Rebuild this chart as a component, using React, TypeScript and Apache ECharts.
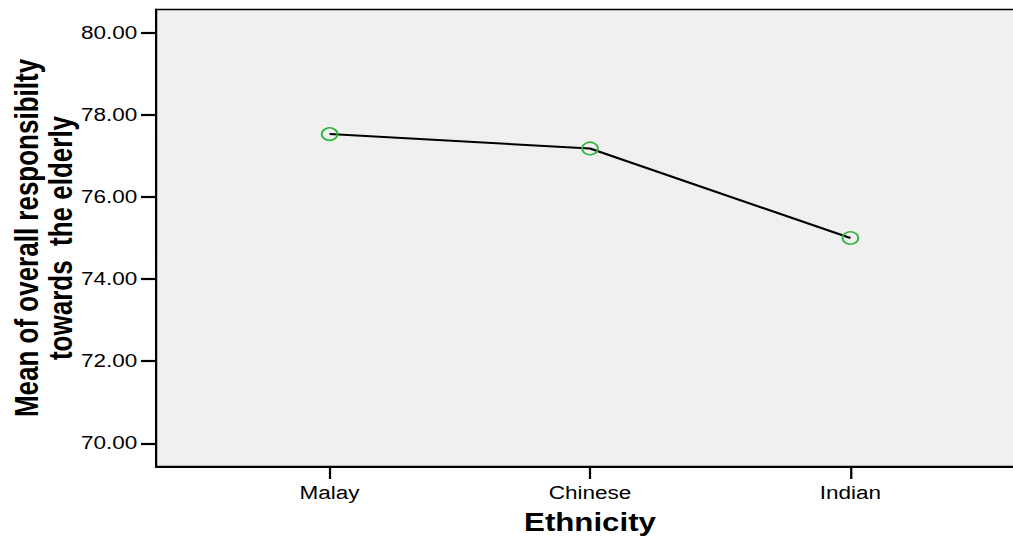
import React, { useEffect, useRef } from "react";
import * as echarts from "echarts";

const categories = ["Malay", "Chinese", "Indian"];
const means = [77.53, 77.18, 75.0];
const yTicks = [70, 72, 74, 76, 78, 80];
const xTitle = "Ethnicity";
const yTitle = "Mean of overall responsibilty\ntowards  the elderly";

const STRETCH = 1.25;
const INNER_W = 840;
const H = 538;

export default function App() {
  const ref = useRef<HTMLDivElement>(null);
  useEffect(() => {
    if (!ref.current) return;
    const chart = echarts.init(ref.current, undefined, { renderer: "svg" });
    const font = "'Liberation Sans', Arial, sans-serif";
    chart.setOption({
      animation: false,
      backgroundColor: "#ffffff",
      grid: {
        left: 124.8,
        right: 20.8,
        top: 9.5,
        bottom: 71.5,
        show: true,
        backgroundColor: "#f0f0f0",
        borderColor: "#000",
        borderWidth: 1.6,
        containLabel: false,
        outerBoundsMode: "none",
      },
      xAxis: {
        type: "value",
        min: -2 / 3,
        max: 8 / 3,
        splitLine: { show: false },
        axisLine: { show: true, onZero: false, lineStyle: { color: "#000", width: 2 } },
        axisTick: {
          show: true,
          inside: false,
          customValues: [0, 1, 2],
          length: 12.5,
          lineStyle: { color: "#000", width: 1.8 },
        },
        axisLabel: {
          customValues: [0, 1, 2],
          formatter: (v: number) => categories[Math.round(v)] ?? "",
          fontSize: 18,
          fontFamily: font,
          color: "#000",
          margin: 17,
        },
        name: xTitle,
        nameLocation: "middle",
        nameGap: 43,
        nameMoveOverlap: false,
        nameTextStyle: { fontSize: 25, fontWeight: "bold", fontFamily: font, color: "#000" },
      },
      yAxis: {
        type: "value",
        min: 69.435,
        max: 80.565,
        splitLine: { show: false },
        axisLine: { show: true, onZero: false, lineStyle: { color: "#000", width: 1.6 } },
        axisTick: {
          show: true,
          inside: false,
          customValues: yTicks,
          length: 12,
          lineStyle: { color: "#000", width: 2.2 },
        },
        axisLabel: {
          customValues: yTicks,
          formatter: (v: number) => v.toFixed(2),
          fontSize: 18,
          fontFamily: font,
          color: "#000",
          margin: 15,
        },
        name: yTitle,
        nameLocation: "middle",
        nameGap: 63,
        nameRotate: 90,
        nameMoveOverlap: false,
        nameTextStyle: {
          fontSize: 26,
          fontWeight: "bold",
          fontFamily: font,
          color: "#000",
          lineHeight: 27,
          align: "center",
        },
      },
      series: [
        {
          type: "line",
          data: means.map((v, i) => [i, v]),
          symbol: "circle",
          symbolSize: 12.5,
          lineStyle: { color: "#000", width: 2 },
          itemStyle: { color: "rgba(0,0,0,0)", borderColor: "#2fb53a", borderWidth: 1.6 },
          emphasis: { disabled: true },
        },
      ],
    });
    return () => chart.dispose();
  }, []);
  return (
    <div
      style={{
        position: "fixed",
        left: 0,
        top: 0,
        width: 1013,
        height: H,
        overflow: "hidden",
        background: "#fff",
      }}
    >
      <div
        ref={ref}
        style={{
          width: INNER_W,
          height: H,
          transform: `scaleX(${STRETCH})`,
          transformOrigin: "0 0",
        }}
      />
    </div>
  );
}
